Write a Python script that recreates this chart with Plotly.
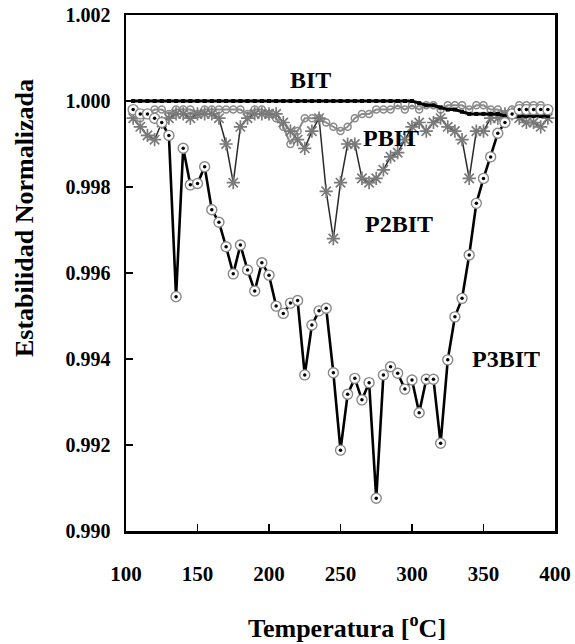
import plotly.graph_objects as go

# ---- data ----
temps = [105, 110, 115, 120, 125, 130, 135, 140, 145, 150, 155, 160, 165, 170, 175,
         180, 185, 190, 195, 200, 205, 210, 215, 220, 225, 230, 235, 240, 245, 250,
         255, 260, 265, 270, 275, 280, 285, 290, 295, 300, 305, 310, 315, 320, 325,
         330, 335, 340, 345, 350, 355, 360, 365, 370, 375, 380, 385, 390, 395]

bit = [1.0000, 1.0000, 1.0000, 1.0000, 1.0000, 1.0000, 1.0000, 1.0000, 1.0000, 1.0000,
       1.0000, 1.0000, 1.0000, 1.0000, 1.0000, 1.0000, 1.0000, 1.0000, 1.0000, 1.0000,
       1.0000, 1.0000, 1.0000, 1.0000, 1.0000, 1.0000, 1.0000, 1.0000, 1.0000, 1.0000,
       1.0000, 1.0000, 1.0000, 1.0000, 1.0000, 1.0000, 1.0000, 1.0000, 1.0000, 1.0000,
       0.99995, 0.9999, 0.9999, 0.99985, 0.9998, 0.9998, 0.99975, 0.9997, 0.9997, 0.9997,
       0.9997, 0.9997, 0.99965, 0.99965, 0.99965, 0.99965, 0.99965, 0.99965, 0.99965]

pbit = [0.9998, 0.9996, 0.9997, 0.9998, 0.9998, 0.9997, 0.9998, 0.9998, 0.9998, 0.9997,
        0.9998, 0.9998, 0.9998, 0.9998, 0.9998, 0.9998, 0.9997, 0.9998, 0.9998, 0.9997,
        0.9996, 0.9994, 0.9990, 0.9993, 0.9996, 0.9996, 0.9996, 0.9995, 0.9994, 0.9993,
        0.9994, 0.9996, 0.9997, 0.9997, 0.9998, 0.9998, 0.9998, 0.9999, 0.9998, 0.9999,
        0.9998, 0.9999, 0.9999, 0.9998, 0.9999, 0.9999, 0.9999, 0.9998, 0.9999, 0.9999,
        0.9998, 0.9998, 0.9997, 0.9998, 0.9999, 0.9999, 0.9999, 0.9999, 0.9998]

p2bit = [0.9996, 0.9994, 0.9992, 0.9991, 0.9995, 0.9996, 0.9997, 0.9997, 0.9996, 0.9997,
         0.9997, 0.9997, 0.9996, 0.9990, 0.9981, 0.9994, 0.9996, 0.9997, 0.9997, 0.9997,
         0.9997, 0.9995, 0.9993, 0.9991, 0.9989, 0.9993, 0.9996, 0.9979, 0.9968, 0.9981,
         0.9990, 0.9990, 0.9982, 0.9981, 0.9982, 0.9984, 0.9987, 0.9988, 0.9991, 0.9994,
         0.9995, 0.9993, 0.9995, 0.9996, 0.9994, 0.9993, 0.9991, 0.9982, 0.9993, 0.9993,
         0.9996, 0.9996, 0.9997, 0.9997, 0.9996, 0.9995, 0.9995, 0.9994, 0.9996]

p3bit = [0.9998, 0.9997, 0.9997, 0.9996, 0.9995, 0.9992, 0.99545, 0.9989, 0.99805, 0.99808,
         0.99847, 0.99747, 0.99718, 0.99661, 0.99598, 0.99665, 0.99607, 0.99558, 0.99624, 0.99595,
         0.99523, 0.99506, 0.99530, 0.99536, 0.99363, 0.99479, 0.99512, 0.99518, 0.99368, 0.99188,
         0.99318, 0.99355, 0.99305, 0.99345, 0.99076, 0.99363, 0.99382, 0.99367, 0.99330, 0.99351,
         0.99275, 0.99353, 0.99353, 0.99204, 0.99398, 0.99498, 0.99541, 0.99642, 0.99762, 0.99820,
         0.99870, 0.99925, 0.99950, 0.99970, 0.99980, 0.99980, 0.99980, 0.99980, 0.99980]

series_labels = ["BIT", "PBIT", "P2BIT", "P3BIT"]
label_x = [229, 285, 291, 366]
label_y = [1.00049, 0.99914, 0.99714, 0.99400]

x_ticks = [100, 150, 200, 250, 300, 350, 400]
y_ticks = [0.990, 0.992, 0.994, 0.996, 0.998, 1.000, 1.002]
y_ticktext = ["0.990", "0.992", "0.994", "0.996", "0.998", "1.000", "1.002"]

SERIF = "Liberation Serif"

fig = go.Figure()

# PBIT (grey circles)
fig.add_trace(go.Scatter(
    x=temps, y=pbit, mode="lines+markers", name="PBIT",
    line=dict(color="#8a8a8a", width=2),
    marker=dict(symbol="circle-open", size=7, color="#8a8a8a", line=dict(width=1.5))))

# P2BIT (asterisks)
fig.add_trace(go.Scatter(
    x=temps, y=p2bit, mode="lines+markers", name="P2BIT",
    line=dict(color="#2a2a2a", width=1.5),
    marker=dict(symbol="asterisk-open", size=11, color="#7a7a7a",
                line=dict(color="#7a7a7a", width=1.7))))

# BIT (black squares)
fig.add_trace(go.Scatter(
    x=temps, y=bit, mode="lines+markers", name="BIT",
    line=dict(color="black", width=3),
    marker=dict(symbol="square", size=4, color="black")))

# P3BIT (dotted circles with black centre)
fig.add_trace(go.Scatter(
    x=temps, y=p3bit, mode="lines+markers", name="P3BIT",
    line=dict(color="black", width=2.6),
    marker=dict(symbol="circle", size=10, color="white",
                line=dict(color="#8a8a8a", width=1.4))))
fig.add_trace(go.Scatter(
    x=temps, y=p3bit, mode="markers", name="P3BIT centres", showlegend=False,
    marker=dict(symbol="circle", size=3.5, color="black")))

for t, lx, ly in zip(series_labels, label_x, label_y):
    fig.add_annotation(x=lx, y=ly, text=t, showarrow=False,
                       font=dict(family=SERIF, size=24, color="black", weight="bold"))

fig.add_annotation(xref="paper", yref="paper", x=-0.2354, y=0.6066,
                   xanchor="center", yanchor="middle",
                   text="Estabilidad Normalizada", textangle=-90, showarrow=False,
                   font=dict(family=SERIF, size=26, color="black", weight="bold"))
fig.add_annotation(xref="paper", yref="paper", x=0.515, y=-0.186,
                   xanchor="center", yanchor="middle",
                   text="Temperatura [<sup>o</sup>C]", showarrow=False,
                   font=dict(family=SERIF, size=26, color="black", weight="bold"))

fig.update_xaxes(range=[100, 400], tickvals=x_ticks, ticktext=[str(v) for v in x_ticks],
                 ticks="inside", ticklen=7, tickwidth=1.2, tickcolor="black",
                 showline=True, linecolor="black", linewidth=2.5, mirror=True,
                 showgrid=False, zeroline=False, ticklabelstandoff=22,
                 ticklabeloverflow="allow", automargin=False,
                 tickfont=dict(family=SERIF, size=21, color="black", weight="bold"))
fig.update_yaxes(range=[0.990, 1.002], tickvals=y_ticks, ticktext=y_ticktext,
                 ticks="inside", ticklen=7, tickwidth=1.2, tickcolor="black",
                 showline=True, linecolor="black", linewidth=2.5, mirror=True,
                 showgrid=False, zeroline=False, ticklabelstandoff=9,
                 ticklabeloverflow="allow", automargin=False,
                 tickfont=dict(family=SERIF, size=20, color="black", weight="bold"))

fig.update_layout(width=575, height=644, showlegend=False, hovermode=False,
                  margin=dict(l=126, r=20, t=15, b=113, autoexpand=False),
                  paper_bgcolor="white", plot_bgcolor="white")

# remove the page's default 8px body margin so the figure fills the window exactly
fig.write_html("out.html",
               config={"displayModeBar": False, "staticPlot": True},
               post_script="document.body.style.margin='0';document.body.style.overflow='hidden';")
